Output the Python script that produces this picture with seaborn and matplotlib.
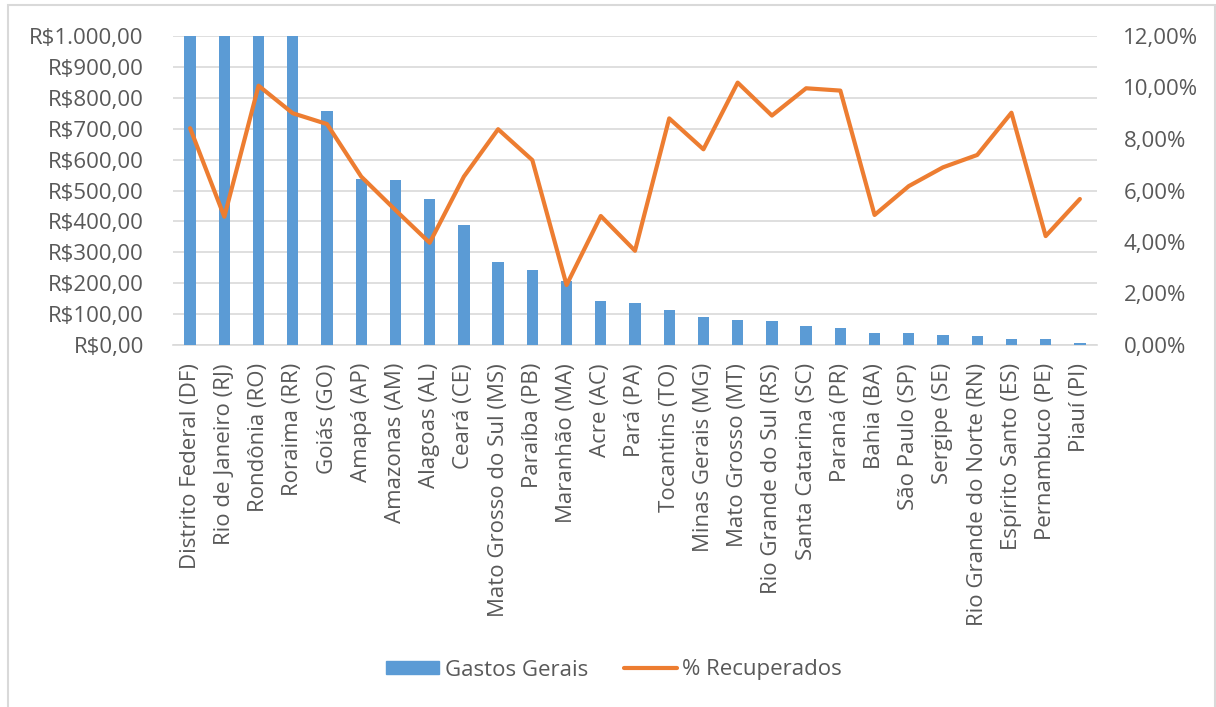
import matplotlib
matplotlib.use("Agg")
import matplotlib.pyplot as plt
import seaborn as sns
import numpy as np
import pandas as pd
from matplotlib.ticker import FuncFormatter, FixedLocator
from matplotlib.patches import Patch, Rectangle
from matplotlib.lines import Line2D

states = ["Distrito Federal (DF)", "Rio de Janeiro (RJ)", "Rondônia (RO)", "Roraima (RR)",
          "Goiás (GO)", "Amapá (AP)", "Amazonas (AM)", "Alagoas (AL)", "Ceará (CE)",
          "Mato Grosso do Sul (MS)", "Paraíba (PB)", "Maranhão (MA)", "Acre (AC)", "Pará (PA)",
          "Tocantins (TO)", "Minas Gerais (MG)", "Mato Grosso (MT)", "Rio Grande do Sul (RS)",
          "Santa Catarina (SC)", "Paraná (PR)", "Bahia (BA)", "São Paulo (SP)", "Sergipe (SE)",
          "Rio Grande do Norte (RN)", "Espírito Santo (ES)", "Pernambuco (PE)", "Piauí (PI)"]
gastos = [1000, 1000, 1000, 1000, 757, 538, 534, 472, 388, 268, 242, 207, 144, 136,
          113, 92, 82, 78, 60, 55, 38, 38, 33, 29, 20, 20, 6]
recuperados = [8.42, 4.98, 10.07, 9.00, 8.58, 6.54, 5.24, 3.97, 6.54, 8.38, 7.18, 2.33, 5.01, 3.66,
               8.80, 7.60, 10.19, 8.91, 9.97, 9.88, 5.05, 6.17, 6.90, 7.38, 9.02, 4.23, 5.67]

left_ticks = [0, 100, 200, 300, 400, 500, 600, 700, 800, 900, 1000]
right_ticks = [0, 2, 4, 6, 8, 10, 12]

BLUE = "#5B9BD5"
ORANGE = "#ED7D31"
TXT = "#595959"
GRID = "#D9D9D9"
FS = 16

sns.set_theme(style="white")
plt.rcParams["font.family"] = ["Open Sans", "DejaVu Sans"]

df = pd.DataFrame({"estado": states, "gastos": gastos, "pct": recuperados})

fig = plt.figure(figsize=(12.16, 7.07), dpi=100)
ax = fig.add_axes([173/1216, 1-345/707, (1097-173)/1216, (345-36)/707])

sns.barplot(data=df, x="estado", y="gastos", color=BLUE, width=0.33,
            saturation=1, ax=ax, zorder=3, linewidth=0)
ax.set_ylim(0, 1000)
ax.set_xlim(-0.5, len(states) - 0.5)
ax.yaxis.set_major_locator(FixedLocator(left_ticks))

def brl(v, pos):
    s = f"{v:,.2f}"
    s = s.replace(",", "X").replace(".", ",").replace("X", ".")
    return "R$" + s

ax.yaxis.set_major_formatter(FuncFormatter(brl))
ax.grid(axis="y", color=GRID, linewidth=1.2, zorder=0)
ax.set_axisbelow(True)
for sp in ["top", "right", "left"]:
    ax.spines[sp].set_visible(False)
ax.spines["bottom"].set_color(GRID)
ax.spines["bottom"].set_linewidth(1.2)
ax.spines["bottom"].set_zorder(1)
ax.set_xlabel("")
ax.set_ylabel("")
ax.tick_params(axis="both", length=0, colors=TXT, labelsize=FS)
ax.tick_params(axis="y", pad=21)
ax.tick_params(axis="x", pad=13)
plt.setp(ax.get_xticklabels(), rotation=90)

ax2 = ax.twinx()
sns.lineplot(x=np.arange(len(states)), y=df["pct"], sort=False, color=ORANGE,
             linewidth=3, ax=ax2)
ax2.set_ylim(0, 12)
ax2.yaxis.set_major_locator(FixedLocator(right_ticks))
ax2.yaxis.set_major_formatter(FuncFormatter(lambda v, p: f"{v:.2f}".replace(".", ",") + "%"))
ax2.tick_params(axis="y", length=0, colors=TXT, labelsize=FS, pad=19)
for sp in ["top", "right", "left", "bottom"]:
    ax2.spines[sp].set_visible(False)
ax2.set_ylabel("")
ax2.set_xlim(-0.5, len(states) - 0.5)

handles = [Patch(facecolor=BLUE, edgecolor=BLUE, label="Gastos Gerais"),
           Line2D([0], [0], color=ORANGE, linewidth=3, solid_capstyle="round", label="% Recuperados")]
leg = fig.legend(handles=handles, loc="center", bbox_to_anchor=(614/1216, 1-670/707),
                 ncol=2, frameon=False, fontsize=FS, handlelength=2.4, handleheight=0.5,
                 columnspacing=1.6, handletextpad=0.25)
for t in leg.get_texts():
    t.set_color(TXT)

fig.add_artist(Rectangle((8/1216, -0.01), (1215-8)/1216, 1.01 - 5/707,
                         transform=fig.transFigure, fill=False, edgecolor=GRID, linewidth=1.5))

fig.savefig("out.png", dpi=100, facecolor="white")
